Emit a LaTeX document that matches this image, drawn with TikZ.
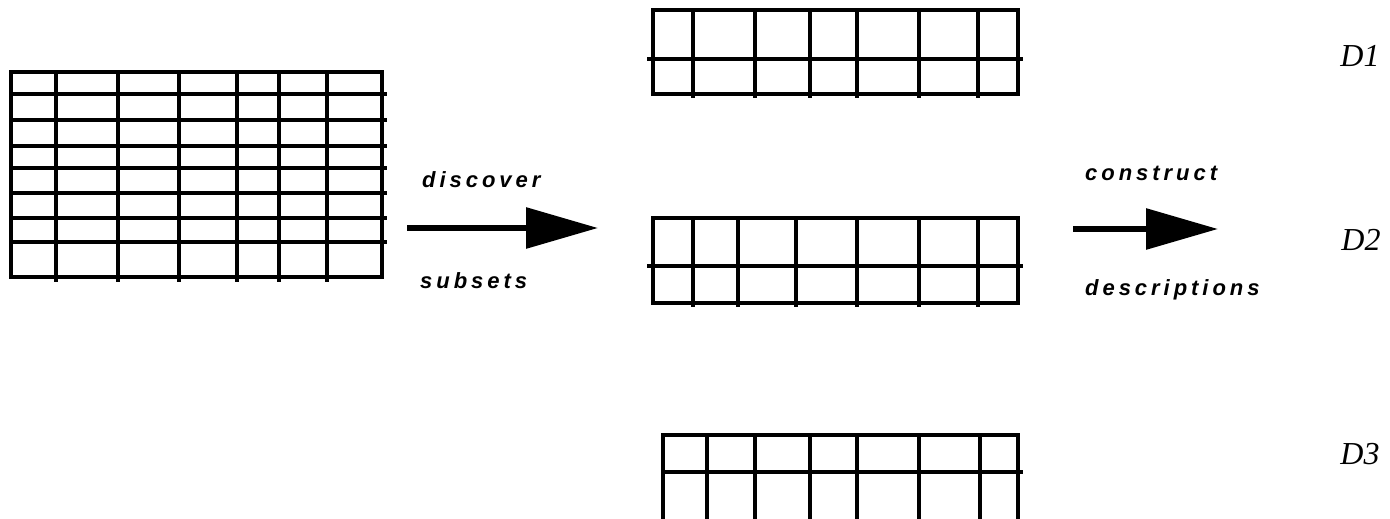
\documentclass[tikz,border=0pt]{standalone}
\usepackage{fontspec}
\setmainfont{Liberation Serif}
\newfontfamily\stepfont[LetterSpace=18]{Liberation Sans}
\usetikzlibrary{arrows.meta, positioning}

\begin{document}
\begin{tikzpicture}[
    x=1pt, y=-1pt,
    gridline/.style={line width=3.5pt},
    steplabel/.style={font=\stepfont\bfseries\itshape\fontsize{22}{22}\selectfont, anchor=base west, inner sep=0pt},
    setname/.style={font=\itshape\fontsize{32}{32}\selectfont, inner sep=0pt},
    fatarrow/.style={line width=6pt, -{Triangle[length=72pt, width=40pt]}}
]
  \useasboundingbox (0,0) rectangle (1390,519);

  % full table
  \draw[gridline] (11,72) rectangle (382,277);
  \foreach \y in {94,120,146,168,193,218,242}
    \draw[gridline] (11,\y) -- (387,\y);
  \foreach \x in {56,118,179,237,279,327}
    \draw[gridline] (\x,72) -- (\x,282);

  % subset 1
  \draw[gridline] (653,10) rectangle (1018,94);
  \draw[gridline] (647,59) -- (1023,59);
  \foreach \x in {693,755,810,857,919,978}
    \draw[gridline] (\x,10) -- (\x,98);

  % subset 2
  \draw[gridline] (653,218) rectangle (1018,303);
  \draw[gridline] (647,266) -- (1023,266);
  \foreach \x in {693,738,796,857,919,978}
    \draw[gridline] (\x,218) -- (\x,307);

  % subset 3
  \draw[gridline] (663,519) -- (663,435) -- (1018,435) -- (1018,519);
  \draw[gridline] (663,472) -- (1023,472);
  \foreach \x in {707,755,810,857,919,980}
    \draw[gridline] (\x,435) -- (\x,519);

  % arrows
  \coordinate (dstart) at (407,228);
  \coordinate (dend) at (598,228);
  \coordinate (cstart) at (1073,229);
  \coordinate (cend) at (1218,229);
  \draw[fatarrow] (dstart) -- (dend);
  \draw[fatarrow] (cstart) -- (cend);

  \node[steplabel] (discover) at (422,187) {discover};
  \node[steplabel] (subsets) at (420,288) {subsets};
  \node[steplabel] (construct) at (1085,180) {construct};
  \node[steplabel] (descr) at (1085,295) {descriptions};

  \node[setname] (d1) at (1360,56) {D1};
  \node[setname] (d2) at (1361,240) {D2};
  \node[setname] (d3) at (1360,454) {D3};
\end{tikzpicture}
\end{document}
